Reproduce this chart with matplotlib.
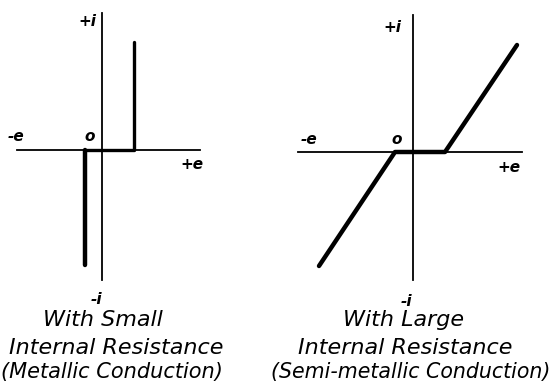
import matplotlib.pyplot as plt

W, H = 550, 383

# e (voltage) / i (current) characteristics, arbitrary units
metallic_e = [-1.7, -1.7, 3.2, 3.2]
metallic_i = [-11.5, 0.0, 0.0, 10.8]

semimetal_e = [-9.4, -1.8, 3.2, 10.4]
semimetal_i = [-11.4, 0.0, 0.0, 10.7]

captions = [
    ['With Small', 'Internal Resistance', '(Metallic Conduction)'],
    ['With Large', 'Internal Resistance', '(Semi-metallic Conduction)'],
]

fig = plt.figure(figsize=(W / 100, H / 100), dpi=100)
fig.patch.set_facecolor('white')


def frac(x0, y0, x1, y1):
    # pixel box -> figure fraction rect
    return [x0 / W, 1 - y1 / H, (x1 - x0) / W, (y1 - y0) / H]


def setup(ax, xlim, ylim):
    ax.set_xlim(*xlim)
    ax.set_ylim(*ylim)
    for s in ['top', 'right']:
        ax.spines[s].set_visible(False)
    ax.spines['left'].set_position('zero')
    ax.spines['bottom'].set_position('zero')
    for s in ['left', 'bottom']:
        ax.spines[s].set_linewidth(1.3)
    ax.set_xticks([])
    ax.set_yticks([])
    ax.patch.set_alpha(0)


lab = dict(fontsize=11, fontstyle='italic', fontweight='bold', color='black')

# left panel
ax1 = fig.add_axes(frac(17, 13, 200, 280))
setup(ax1, (-8.5, 9.8), (-13.0, 13.7))
ax1.plot(metallic_e[:2], metallic_i[:2], color='black', lw=3.2, solid_capstyle='round')
ax1.plot(metallic_e[1:], metallic_i[1:], color='black', lw=2.4, solid_capstyle='round')
ax1.text(-0.6, 12.8, '+i', ha='right', va='center', **lab)
ax1.text(-8.6, 0.6, '-e', ha='center', va='bottom', clip_on=False, **lab)
ax1.text(-1.2, 0.6, 'o', ha='center', va='bottom', **lab)
ax1.text(9.0, -0.7, '+e', ha='center', va='top', clip_on=False, **lab)
ax1.text(-0.6, -14.2, '-i', ha='center', va='top', clip_on=False, **lab)

# right panel
ax2 = fig.add_axes(frac(298, 15, 522, 280))
setup(ax2, (-11.5, 10.9), (-12.8, 13.7))
ax2.plot(semimetal_e, semimetal_i, color='black', lw=3.2, solid_capstyle='round',
         solid_joinstyle='round')
ax2.text(-2.1, 12.5, '+i', ha='center', va='center', **lab)
ax2.text(-10.4, 0.5, '-e', ha='center', va='bottom', **lab)
ax2.text(-1.6, 0.5, 'o', ha='center', va='bottom', **lab)
ax2.text(9.6, -0.8, '+e', ha='center', va='top', clip_on=False, **lab)
ax2.text(-0.7, -14.2, '-i', ha='center', va='top', clip_on=False, **lab)

# captions
cap = dict(fontstyle='italic', color='black', ha='center', va='center')
sizes = [[16, 16, 15], [16, 16, 14.8]]
for cx, fss, lines in zip([[103, 116, 112], [404, 405, 411]], sizes, captions):
    for x, cy, fs, line in zip(cx, [320, 348, 372], fss, lines):
        fig.text(x / W, 1 - cy / H, line, fontsize=fs, **cap)

fig.savefig('out.png', dpi=100, facecolor='white')
